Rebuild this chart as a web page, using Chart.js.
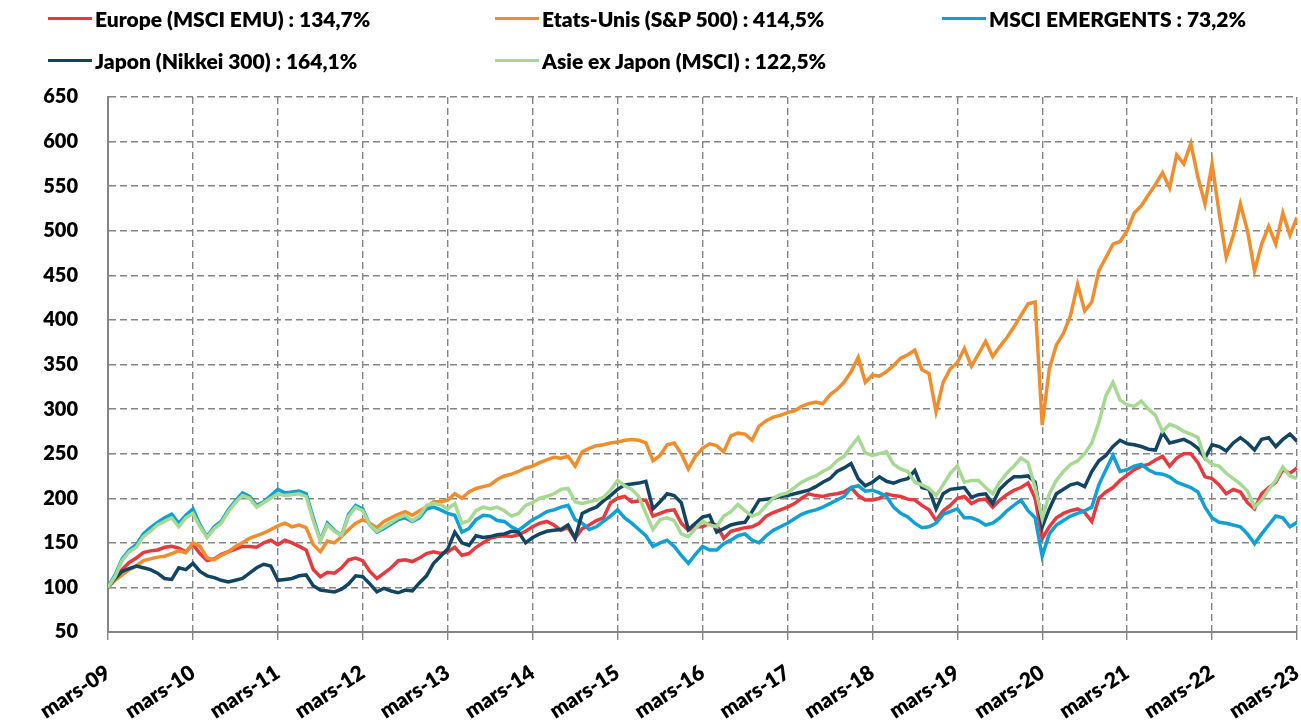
<!DOCTYPE html>
<html>
<head>
<meta charset="utf-8">
<script src="https://cdn.jsdelivr.net/npm/chart.js@4/dist/chart.umd.min.js"></script>
<style>
  body { margin: 0; background: #fff; }
  #wrap { position: relative; width: 1301px; height: 726px; }
  #chart { position: absolute; left: 0; top: 0; }
  .item { position: absolute; display: flex; align-items: center; height: 26px;
          font-family: Lato, "Open Sans", sans-serif; font-weight: 800; font-size: 21px; color: #000; white-space: nowrap; }
  .item span.line { display: inline-block; width: 44px; height: 3px; margin-right: 3px; }
</style>
</head>
<body>
<div id="wrap">
  <canvas id="chart" width="1301" height="726"></canvas>
</div>
<script>
// mois de mars-09 (0) à mars-23 (168), base 100
const tickLabels = ['mars-09', 'mars-10', 'mars-11', 'mars-12', 'mars-13', 'mars-14', 'mars-15',
    'mars-16', 'mars-17', 'mars-18', 'mars-19', 'mars-20', 'mars-21', 'mars-22', 'mars-23'];

const seriesNames = [
    'Europe (MSCI EMU) : 134,7%',
    'Etats-Unis (S&P 500) : 414,5%',
    'MSCI EMERGENTS : 73,2%',
    'Japon (Nikkei 300) : 164,1%',
    'Asie ex Japon (MSCI) : 122,5%'
];
const seriesColors = ['#E8393F', '#F18D2C', '#0FA0D6', '#114563', '#A6DA92'];

const europe = [
    100, 112, 120, 128, 133, 139, 141, 142, 145, 146, 144, 140,
    148, 138, 130, 132, 137, 140, 143, 146, 146, 145, 150, 153,
    148, 153, 150, 146, 142, 120, 112, 117, 116, 122, 131, 133,
    130, 118, 110, 116, 122, 130, 131, 129, 133, 138, 140, 138,
    140, 145, 136, 138, 145, 150, 155, 157, 158, 157, 159, 163,
    168, 172, 174, 170, 164, 167, 155, 166, 170, 175, 178, 195,
    200, 202, 196, 197, 198, 180, 183, 186, 187, 172, 164, 168,
    168, 172, 170, 155, 163, 165, 167, 168, 172, 180, 184, 187,
    190, 194, 200, 205, 203, 202, 204, 205, 207, 212, 203, 198,
    198, 200, 205, 203, 202, 199, 198, 192, 187, 175, 186, 192,
    200, 202, 194, 198, 199, 190, 198, 204, 209, 212, 217, 200,
    155, 168, 178, 183, 186, 188, 184, 174, 200, 207, 212, 220,
    226, 232, 236, 238, 243, 247, 236, 245, 250, 250, 240, 224,
    222, 215, 205, 210, 207, 195, 188, 205, 212, 218, 232, 228,
    234
];

const etatsUnis = [
    100, 108, 114, 120, 124, 130, 132, 134, 135, 138, 141, 139,
    150, 146, 133, 131, 136, 140, 146, 150, 155, 158, 161, 165,
    169, 172, 168, 170, 167, 148, 140, 152, 150, 157, 165, 172,
    176, 172, 167, 174, 178, 182, 185, 181, 186, 190, 196, 196,
    198, 205, 200, 207, 211, 213, 215, 221, 225, 227, 230, 234,
    236, 240, 243, 246, 245, 247, 236, 252, 256, 259, 260, 262,
    263, 265, 266, 265, 262, 242, 248, 260, 262, 250, 233, 247,
    256, 261, 259, 252, 270, 273, 272, 265, 281, 287, 291, 293,
    296, 298, 303, 306, 308, 306, 316, 322, 330, 342, 358, 330,
    338, 337, 342, 349, 357, 361, 366, 344, 340, 297, 330, 345,
    352, 368, 348, 362, 376, 359, 370, 380, 392, 405, 418, 420,
    282, 345, 372, 385, 405, 440, 410, 420, 455, 470, 485, 488,
    500, 520, 528, 540, 552, 565, 548, 585, 575, 598, 560, 530,
    575, 520, 470, 495, 530, 500, 455, 485, 505, 485, 520, 495,
    515
];

const emergents = [
    100, 114, 132, 142, 148, 160, 167, 173, 178, 182, 172, 181,
    188, 170, 157, 168, 174, 187, 197, 206, 202, 192, 196, 203,
    210, 206, 207, 208, 205, 178, 153, 172, 164, 158, 182, 192,
    188, 170, 162, 166, 171, 176, 178, 174, 178, 188, 190, 187,
    183, 181, 162, 166, 176, 181, 180, 175, 174, 168, 164, 170,
    176, 180, 185, 187, 190, 192, 176, 172, 165, 168, 174, 180,
    187, 178, 172, 165, 158, 146, 150, 153, 146, 136, 127, 137,
    146, 142, 142, 149, 153, 158, 160, 153, 150, 158, 164, 168,
    172, 177, 182, 185, 187, 190, 194, 198, 202, 212, 214, 208,
    209, 206, 202, 190, 183, 179, 172, 167, 168, 172, 182, 185,
    188, 178, 178, 175, 170, 172, 178, 186, 192, 198, 186, 178,
    135, 160, 170, 175, 180, 183, 186, 190, 215, 232, 248, 230,
    232, 236, 238, 232, 228, 227, 224, 218, 215, 212, 207, 190,
    178, 173, 172, 170, 168, 160, 149, 160, 170, 180, 178, 168,
    173
];

const japon = [
    100, 110, 118, 121, 124, 122, 120, 116, 110, 109, 122, 120,
    127, 118, 113, 111, 108, 106, 108, 110, 116, 122, 126, 124,
    108, 109, 110, 113, 114, 102, 97, 96, 95, 98, 104, 113,
    112, 104, 95, 99, 96, 94, 97, 96, 105, 113, 127, 135,
    143, 162, 150, 147, 158, 156, 157, 159, 160, 163, 162, 150,
    156, 160, 163, 164, 165, 170, 155, 183, 187, 190, 197, 203,
    210, 215, 216, 217, 219, 188, 196, 205, 203, 195, 165, 172,
    179, 181, 162, 166, 170, 172, 173, 185, 198, 199, 200, 202,
    203, 205, 207, 209, 213, 218, 222, 230, 234, 239, 222, 214,
    218, 224, 219, 217, 220, 222, 231, 212, 210, 188, 205, 210,
    211, 212, 201, 204, 205, 194, 210, 218, 224, 224, 225, 218,
    168, 188, 205, 210, 215, 217, 213, 230, 242, 248, 258, 265,
    261, 260, 258, 255, 254, 274, 262, 264, 266, 262, 256, 245,
    260, 258, 253, 262, 268, 262, 254, 266, 268, 258, 266, 272,
    264
];

const asieExJapon = [
    100, 112, 130, 140, 145, 157, 163, 170, 174, 178, 168, 178,
    183, 168, 156, 166, 172, 185, 195, 203, 200, 190, 195, 200,
    205, 203, 204, 205, 202, 175, 152, 170, 163, 158, 180, 190,
    186, 170, 163, 168, 173, 178, 181, 175, 180, 192, 194, 193,
    188, 194, 172, 175, 186, 190, 188, 190, 186, 180, 183, 192,
    195, 200, 202, 205, 210, 211, 196, 194, 196, 198, 201, 209,
    220, 214, 210, 202, 183, 165, 176, 178, 175, 160, 157, 166,
    174, 170, 168, 180, 185, 193, 186, 180, 183, 192, 200, 204,
    206, 212, 218, 222, 225, 230, 234, 242, 247, 258, 268, 251,
    248, 250, 252, 238, 233, 230, 218, 215, 211, 203, 215, 228,
    236, 218, 220, 220, 212, 205, 218, 228, 236, 245, 240, 212,
    177, 205, 220, 230, 238, 242, 250, 262, 285, 315, 330, 310,
    305, 303, 309, 300, 293, 275, 283, 280, 275, 272, 268, 245,
    238, 236, 228, 222, 216, 208, 190, 198, 210, 220, 235, 225,
    222
];

const seriesData = [europe, etatsUnis, emergents, japon, asieExJapon];

// légende en HTML, 3 colonnes
const legendPos = [[48, 5], [495, 5], [942, 5], [48, 47], [495, 47]];
const wrap = document.getElementById('wrap');
seriesNames.forEach((name, i) => {
    const div = document.createElement('div');
    div.className = 'item';
    div.style.left = legendPos[i][0] + 'px';
    div.style.top = legendPos[i][1] + 'px';
    const line = document.createElement('span');
    line.className = 'line';
    line.style.background = seriesColors[i];
    div.appendChild(line);
    div.appendChild(document.createTextNode(name));
    wrap.appendChild(div);
});

const datasets = seriesData.map((vals, i) => ({
    label: seriesNames[i],
    data: vals.map((v, m) => ({ x: m, y: v })),
    borderColor: seriesColors[i],
    backgroundColor: seriesColors[i],
    borderWidth: 3.5,
    pointRadius: 0,
    tension: 0,
    order: 5 - i
}));

const gridColor = '#858585';

new Chart(document.getElementById('chart'), {
    type: 'line',
    data: { datasets: datasets },
    options: {
        responsive: false,
        animation: false,
        layout: { padding: { top: 97, right: 4, left: 0, bottom: 0 } },
        plugins: { legend: { display: false }, tooltip: { enabled: false } },
        scales: {
            x: {
                type: 'linear',
                min: 0,
                max: 168,
                afterFit: s => { s.height = 94; s.paddingLeft = 0; s.paddingRight = 0; },
                afterBuildTicks: s => { s.ticks = tickLabels.map((t, i) => ({ value: i * 12 })); },
                ticks: {
                    callback: v => tickLabels[v / 12],
                    minRotation: 33,
                    maxRotation: 33,
                    autoSkip: false,
                    padding: 20,
                    color: '#000',
                    font: { family: 'Lato', weight: 800, size: 21 }
                },
                grid: {
                    color: gridColor,
                    lineWidth: 1.4,
                    tickLength: 8,
                    tickColor: gridColor,
                    tickBorderDash: []
                },
                border: { color: gridColor, width: 2, dash: [7, 4] }
            },
            y: {
                min: 50,
                max: 650,
                afterFit: s => { s.width = 108; },
                ticks: { stepSize: 50, padding: 30, color: '#000', font: { family: 'Lato', weight: 800, size: 20 } },
                grid: { color: gridColor, lineWidth: 1.4, drawTicks: false },
                border: { color: gridColor, width: 2, dash: [7, 4] }
            }
        }
    }
});
</script>
</body>
</html>
